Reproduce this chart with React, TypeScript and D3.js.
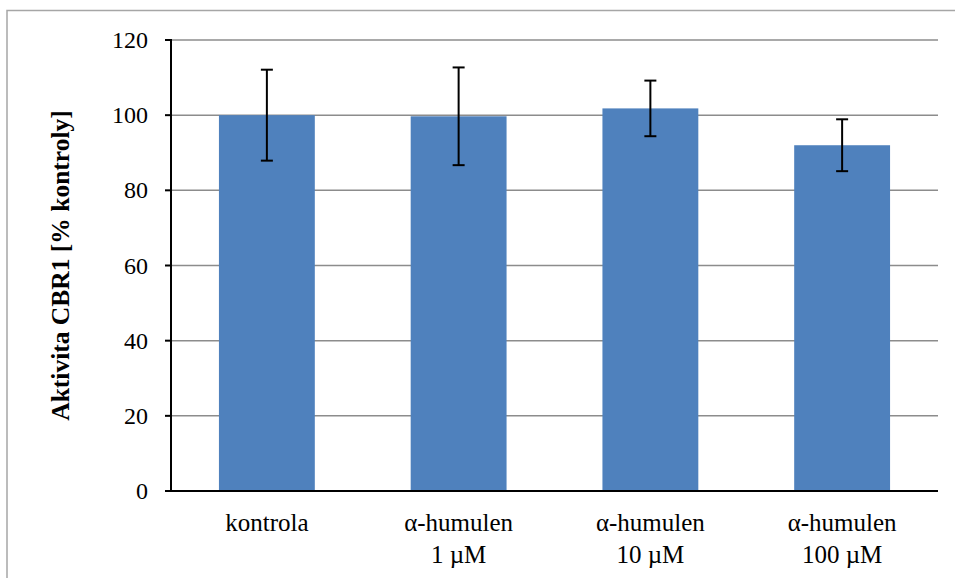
import React from "react";
import * as d3 from "d3";

const categories: string[][] = [
  ["kontrola"],
  ["α-humulen", "1 µM"],
  ["α-humulen", "10 µM"],
  ["α-humulen", "100 µM"],
];
const activity: number[] = [100, 99.7, 101.8, 92.0];
const errors: number[] = [12.1, 13.0, 7.4, 6.9];
const yTicks: number[] = [0, 20, 40, 60, 80, 100, 120];
const yLabel = "Aktivita CBR1 [% kontroly]";

const W = 955;
const H = 578;
const margin = { left: 171, right: 17, top: 40, bottom: 87 };
const FONT = "Liberation Serif";

export default function App() {
  const x = d3
    .scaleBand<number>()
    .domain(categories.map((_, i) => i))
    .range([margin.left, W - margin.right])
    .paddingInner(0.5)
    .paddingOuter(0.25);
  const y = d3.scaleLinear().domain([0, 120]).range([H - margin.bottom, margin.top]);
  const x0 = margin.left;
  const x1 = W - margin.right;
  const y0 = y(0);

  return (
    <svg
      width={W}
      height={H}
      style={{ position: "absolute", left: 0, top: 0, background: "#fff" }}
    >
      <rect x={7} y={10.5} width={W + 10} height={H + 10} fill="none" stroke="#a6a6a6" strokeWidth={1.5} />
      {/* horizontal gridlines */}
      {yTicks.filter((t) => t > 0).map((t) => (
        <line key={t} x1={x0} x2={x1} y1={y(t)} y2={y(t)} stroke="#8c8c8c" strokeWidth={1.5} />
      ))}
      {/* bars */}
      {activity.map((v, i) => (
        <rect
          key={i}
          x={x(i)}
          y={y(v)}
          width={x.bandwidth()}
          height={y0 - y(v)}
          fill="#4f81bd"
        />
      ))}
      {/* error bars */}
      {activity.map((v, i) => {
        const cx = (x(i) as number) + x.bandwidth() / 2;
        const hi = y(v + errors[i]);
        const lo = y(v - errors[i]);
        return (
          <g key={i} stroke="#000" strokeWidth={2}>
            <line x1={cx} x2={cx} y1={hi} y2={lo} />
            <line x1={cx - 6} x2={cx + 6} y1={hi} y2={hi} />
            <line x1={cx - 6} x2={cx + 6} y1={lo} y2={lo} />
          </g>
        );
      })}
      {/* y axis */}
      <line x1={x0} x2={x0} y1={y(120) - 1} y2={y0} stroke="#000" strokeWidth={2} />
      {yTicks.map((t) => (
        <g key={t}>
          <line x1={x0 - 6} x2={x0} y1={y(t)} y2={y(t)} stroke="#000" strokeWidth={2} />
          <text x={148} y={y(t) + 8} textAnchor="end" fontSize={24} fill="#000" style={{ fontFamily: FONT }}>
            {t}
          </text>
        </g>
      ))}
      {/* x axis */}
      <line x1={x0 - 6} x2={x1} y1={y0} y2={y0} stroke="#000" strokeWidth={2} />
      {categories.map((lines, i) => {
        const cx = (x(i) as number) + x.bandwidth() / 2;
        return (
          <text key={i} textAnchor="middle" fontSize={25} fill="#000" style={{ fontFamily: FONT }}>
            {lines.map((l, j) => (
              <tspan key={j} x={cx} y={531 + j * 32}>
                {l}
              </tspan>
            ))}
          </text>
        );
      })}
      <text
        transform={`translate(69, ${(margin.top + y0) / 2}) rotate(-90)`}
        textAnchor="middle"
        fontSize={25.5}
        fontWeight="bold"
        fill="#000"
        style={{ fontFamily: FONT }}
      >
        {yLabel}
      </text>
    </svg>
  );
}
